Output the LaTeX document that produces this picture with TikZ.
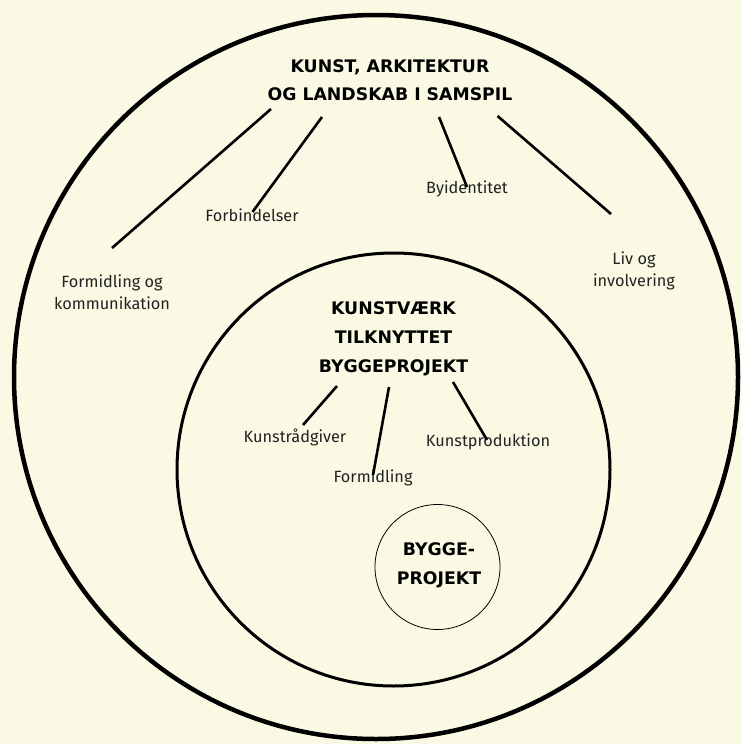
\documentclass[tikz,border=0pt]{standalone}
\usepackage{fontspec}
\setmainfont{Fira Sans}
\newfontfamily\titlefont{DejaVu Sans}
\definecolor{bg}{HTML}{FAFAE4}
\definecolor{txt}{HTML}{222222}
\begin{document}
\begin{tikzpicture}[x=1pt,y=-1pt,
  toptitle/.style={align=center,inner sep=0pt,font=\titlefont\bfseries\fontsize{17.3}{28}\selectfont},
  midtitle/.style={align=center,inner sep=0pt,font=\titlefont\bfseries\fontsize{17.3}{29}\selectfont},
  lbl/.style={align=center,inner sep=0pt,text=txt,font=\fontsize{16.3}{21.5}\selectfont},
  conn/.style={line width=2.6pt},
  ring/.style={draw,circle}]
\fill[bg] (0,0) rectangle (741,744);
\useasboundingbox (0,0) rectangle (741,744);
% circles
\node[ring,line width=4.5pt,minimum size=724pt] (outer) at (376,377) {};
\node[ring,line width=3pt,minimum size=433pt] (inner) at (393.5,469.5) {};
\node[ring,line width=0.8pt,minimum size=125pt] (small) at (437.5,567) {};
% titles
\node[toptitle] (top) at (390,80) {KUNST, ARKITEKTUR\\OG LANDSKAB I SAMSPIL};
\node[midtitle] (mid) at (393.5,339) {KUNSTVÆRK\\TILKNYTTET\\BYGGEPROJEKT};
\node[midtitle] (bp) at (439,565) {BYGGE-\\PROJEKT};
% outer labels
\node[lbl] (formk) at (112,292) {Formidling og\\kommunikation};
\node[lbl] (forb) at (252,215) {Forbindelser};
\node[lbl] (byid) at (467,189) {Byidentitet};
\node[lbl] (liv) at (634,271) {Liv og\\involvering};
% inner labels
\node[lbl] (kraad) at (295,437) {Kunstrådgiver};
\node[lbl] (formi) at (373,478) {Formidling};
\node[lbl] (kprod) at (488,442) {Kunstproduktion};
% connector coordinates
\coordinate (a1) at (271,109); \coordinate (b1) at (112,248);
\coordinate (a2) at (322,117); \coordinate (b2) at (252.5,212);
\coordinate (a3) at (439,117); \coordinate (b3) at (467,187);
\coordinate (a4) at (497.5,116); \coordinate (b4) at (611,214);
\coordinate (a5) at (337,386); \coordinate (b5) at (303,425);
\coordinate (a6) at (389,387); \coordinate (b6) at (373,475);
\coordinate (a7) at (453,382); \coordinate (b7) at (487,440);
\draw[conn] (a1) -- (b1);
\draw[conn] (a2) -- (b2);
\draw[conn] (a3) -- (b3);
\draw[conn] (a4) -- (b4);
\draw[conn] (a5) -- (b5);
\draw[conn] (a6) -- (b6);
\draw[conn] (a7) -- (b7);
\end{tikzpicture}
\end{document}
